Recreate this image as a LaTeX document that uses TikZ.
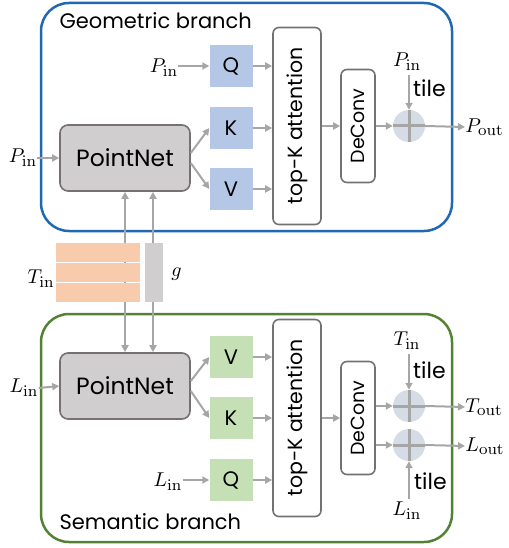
\documentclass[tikz,border=0pt]{standalone}
\usepackage[no-math]{fontspec}
\setmainfont{Poppins}
\usetikzlibrary{arrows.meta,calc}
\DeclareMathSizes{10}{10}{8}{6}
\definecolor{bblue}{RGB}{33,104,178}
\definecolor{bgreen}{RGB}{84,130,53}
\definecolor{lblue}{RGB}{180,199,231}
\definecolor{lgreen}{RGB}{197,224,180}
\definecolor{lorange}{RGB}{248,203,173}
\definecolor{lgray}{RGB}{208,206,206}
\definecolor{agray}{RGB}{166,166,166}
\definecolor{bdgray}{RGB}{118,113,113}
\definecolor{cfill}{RGB}{214,220,229}
\tikzset{
  txt/.style={font=\fontsize{21}{24}\selectfont},
  ttl/.style={font=\fontsize{21}{24}\selectfont},
  tiletxt/.style={font=\fontsize{22}{24}\selectfont, inner sep=0pt, anchor=west},
  mth/.style={font=\fontsize{10}{12}\selectfont, inner sep=0pt, scale=2},
  pnbox/.style={draw=bdgray, line width=1.6pt, fill=lgray, rounded corners=8pt, minimum width=130pt, minimum height=66pt, font=\fontsize{23.5}{26}\selectfont},
  qkvA/.style={fill=lblue, minimum width=43pt, minimum height=42pt, inner sep=0pt, txt},
  qkvB/.style={fill=lgreen, minimum width=43pt, minimum height=42pt, inner sep=0pt, txt},
  attbox/.style={draw=bdgray, line width=1.6pt, fill=white, rounded corners=6pt, minimum width=197pt, minimum height=48pt, rotate=90, inner sep=0pt, font=\fontsize{20.5}{22}\selectfont},
  decbox/.style={draw=bdgray, line width=1.6pt, fill=white, rounded corners=6pt, minimum width=113pt, minimum height=34pt, rotate=90, inner sep=0pt, font=\fontsize{19}{20}\selectfont},
  pluscirc/.style={circle, fill=cfill, minimum size=32pt, inner sep=0pt},
  arr/.style={draw=agray, line width=2pt, -{Triangle[length=7pt,width=7pt]}},
  ln/.style={draw=agray, line width=2pt},
  crossln/.style={draw=agray, line width=3pt},
  trow/.style={fill=lorange, minimum width=84pt, minimum height=19pt, inner sep=0pt, anchor=north west},
  gbar/.style={fill=lgray, minimum width=18pt, minimum height=59pt, inner sep=0pt, anchor=north west},
}
\begin{document}
\begin{tikzpicture}[x=1pt,y=-1pt]
\useasboundingbox (0,0) rectangle (508,548);
% branch frames
\draw[bblue, line width=2.5pt, rounded corners=28pt] (41,3) rectangle (452,231);
\draw[bgreen, line width=2.5pt, rounded corners=28pt] (41,314) rectangle (452,542);
\node[ttl, anchor=west] (titA) at (56,21) {Geometric branch};
\node[ttl, anchor=west] (titB) at (56,522) {Semantic branch};

% ---------- shared inputs ----------
\coordinate (cx1) at (125,0);
\coordinate (cx2) at (153,0);
\coordinate (tt) at (56,243);
\coordinate (tb) at (56,302);
\draw[ln] (tt -| cx1) -- (tb -| cx1);
\draw[ln] (tt -| cx2) -- (tb -| cx2);
\node[trow] (t1) at (56,243) {};
\node[trow] (t2) at (56,263) {};
\node[trow] (t3) at (56,283) {};
\node[gbar] (gb) at (145,243) {};
\node[mth, anchor=east] (tinlab) at (55,279) {$T_{\mathrm{in}}$};
\node[mth, anchor=west] (glab) at (171,274) {$g$};

% ---------- geometric branch ----------
\node[pnbox] (pnA) at (125,158) {PointNet};
\node[qkvA] (qA) at (231,66) {Q};
\node[qkvA] (kA) at (231,128) {K};
\node[qkvA] (vA) at (231,189) {V};
\node[attbox] (attA) at (297,126) {top-K attention};
\node[decbox] (decA) at (358,126) {DeConv};
\node[pluscirc] (plA) at (409,126) {};
\draw[crossln] (plA.west) -- (plA.east);
\draw[crossln] (plA.north) -- (plA.south);
\node[mth] (pinA1) at (23,158) {$P_{\mathrm{in}}$};
\node[mth] (pinA2) at (164,68) {$P_{\mathrm{in}}$};
\node[mth] (pinA3) at (407,62) {$P_{\mathrm{in}}$};
\node[tiletxt] (tileA) at (413,88) {tile};
\node[mth, anchor=west] (poutA) at (465,127) {$P_{\mathrm{out}}$};
\draw[arr] (pinA1.east) -- (pnA.west);
\draw[arr] (pinA2.east |- qA.west) -- (qA.west);
\draw[arr] ($(pnA.east)+(0,-5)$) -- (kA.west);
\draw[arr] ($(pnA.east)+(0,5)$) -- (vA.west);
\draw[arr] (qA.east) -- (qA.east -| attA.north);
\draw[arr] (kA.east) -- (kA.east -| attA.north);
\draw[arr] (vA.east) -- (vA.east -| attA.north);
\draw[arr] (attA.south) -- (decA.north);
\draw[arr] (decA.south) -- (plA.west);
\draw[arr] (plA.north |- pinA3.south) ++(0,4) -- (plA.north);
\draw[arr] (plA.east) -- (poutA.west);

% ---------- semantic branch ----------
\node[pnbox] (pnB) at (125,386) {PointNet};
\node[qkvB] (vB) at (231,357) {V};
\node[qkvB] (kB) at (231,418) {K};
\node[qkvB] (qB) at (231,480) {Q};
\node[attbox] (attB) at (297,418) {top-K attention};
\node[decbox] (decB) at (358,418) {DeConv};
\node[pluscirc] (plB1) at (409,406) {};
\node[pluscirc] (plB2) at (409,445) {};
\draw[crossln] (plB1.west) -- (plB1.east);
\draw[crossln] (plB1.north) -- (plB1.south);
\draw[crossln] (plB2.west) -- (plB2.east);
\draw[crossln] (plB2.north) -- (plB2.south);
\node[mth] (linB1) at (24,388) {$L_{\mathrm{in}}$};
\node[mth] (linB2) at (168,482) {$L_{\mathrm{in}}$};
\node[mth] (tinB) at (407,341) {$T_{\mathrm{in}}$};
\node[mth] (linB3) at (407,511) {$L_{\mathrm{in}}$};
\node[tiletxt] (tileB1) at (413,370) {tile};
\node[tiletxt] (tileB2) at (414,481) {tile};
\node[mth, anchor=west] (toutB) at (465,407) {$T_{\mathrm{out}}$};
\node[mth, anchor=west] (loutB) at (465,446) {$L_{\mathrm{out}}$};
\draw[arr] (linB1.east) -- (pnB.west);
\draw[arr] (linB2.east |- qB.west) -- (qB.west);
\draw[arr] ($(pnB.east)+(0,-5)$) -- (vB.west);
\draw[arr] ($(pnB.east)+(0,5)$) -- (kB.west);
\draw[arr] (vB.east) -- (vB.east -| attB.north);
\draw[arr] (kB.east) -- (kB.east -| attB.north);
\draw[arr] (qB.east) -- (qB.east -| attB.north);
\draw[arr] (attB.south) -- (decB.north);
\draw[arr] (plB1.west -| decB.south) -- (plB1.west);
\draw[arr] (plB2.west -| decB.south) -- (plB2.west);
\draw[arr] (plB1.north |- tinB.south) ++(0,4) -- (plB1.north);
\draw[arr] (plB2.south |- linB3.north) ++(0,-3) -- (plB2.south);
\draw[arr] (plB1.east) -- (toutB.west);
\draw[arr] (plB2.east) -- (loutB.west);

% ---------- vertical connections ----------
\draw[arr] (t1.north -| cx1) -- (pnA.south -| cx1);
\draw[arr] (gb.north -| cx2) -- (pnA.south -| cx2);
\draw[arr] (t3.south -| cx1) -- (pnB.north -| cx1);
\draw[arr] (gb.south -| cx2) -- (pnB.north -| cx2);
\end{tikzpicture}
\end{document}
